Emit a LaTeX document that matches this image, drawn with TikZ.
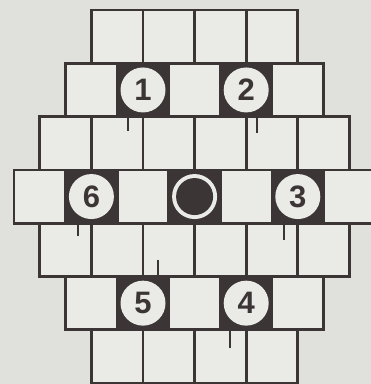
\documentclass[tikz,border=0pt]{standalone}
\usepackage{fontspec}
\setmainfont{Liberation Sans}
\definecolor{bg}{HTML}{E0E0DC}
\definecolor{ink}{HTML}{3B3535}
\definecolor{paper}{HTML}{EAEAE6}
\begin{document}
\begin{tikzpicture}[x=1pt,y=-1pt,
  cell/.style={draw=ink, line width=2.8pt, fill=paper, minimum width=51.6pt, minimum height=53.3pt, inner sep=0pt, outer sep=0pt},
  dark/.style={cell, fill=ink},
  disc/.style={circle, fill=paper, draw=none, minimum size=45pt, inner sep=0pt, font=\fontsize{31}{31}\selectfont\bfseries, text=ink},
  hubdot/.style={circle, fill=ink, draw=none, minimum size=37pt, inner sep=0pt},
  tick/.style={draw=ink, line width=2.2pt}]
\useasboundingbox (0,0) rectangle (371,384);
\clip (0,0) rectangle (371,384);
\fill[bg] (0,0) rectangle (371,384);
\foreach \r/\n in {0/4,1/5,2/6,3/7,4/6,5/5,6/4} {
  \foreach \i in {1,...,\n} {
    \node[cell] (c\r-\i) at ({14+(7-\n)*25.8+(\i-0.5)*51.6},{10+(\r+0.5)*53.3}) {};
  }
}
\foreach \c in {c1-2,c1-4,c3-2,c3-4,c3-6,c5-2,c5-4} {
  \node[dark] at (\c) {};
}
\node[disc] (n1) at (c1-2) {1};
\node[disc] (n2) at (c1-4) {2};
\node[disc] (n6) at (c3-2) {6};
\node[disc] (n0) at (c3-4) {};
\node[hubdot] (hub) at (c3-4) {};
\node[disc] (n3) at (c3-6) {3};
\node[disc] (n5) at (c5-2) {5};
\node[disc] (n4) at (c5-4) {4};
% small marks
\draw[tick] ([xshift=11pt]c2-2.north) -- ++(0,14);
\draw[tick] ([xshift=-15pt]c2-5.north) -- ++(0,16);
\draw[tick] ([xshift=12.4pt]c4-1.north) -- ++(0,13);
\draw[tick] ([xshift=12pt]c4-5.north) -- ++(0,17);
\draw[tick] ([xshift=-11pt]c4-3.south) -- ++(0,-17);
\draw[tick] ([xshift=9.6pt]c6-3.north) -- ++(0,18);
\end{tikzpicture}
\end{document}
